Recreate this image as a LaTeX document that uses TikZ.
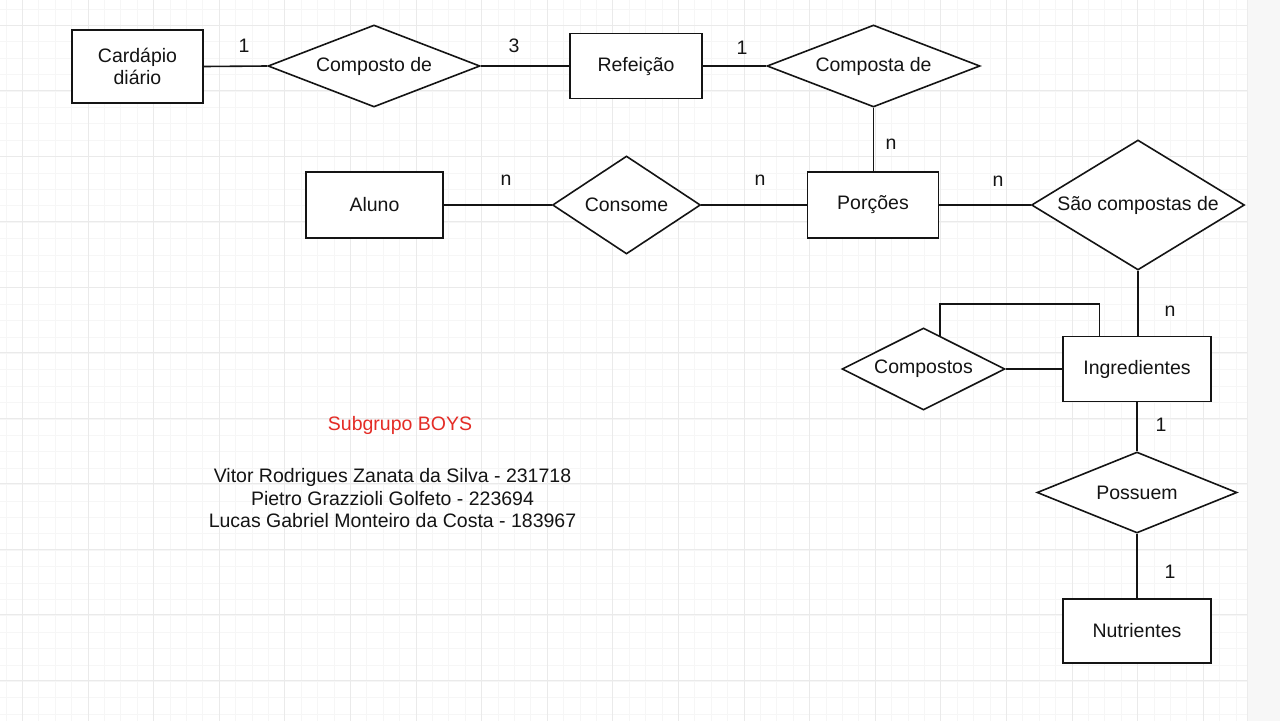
\documentclass[tikz,border=0pt]{standalone}
\usepackage{fontspec}
\setmainfont{Liberation Sans}
\usetikzlibrary{shapes.geometric,calc}
\definecolor{gridminor}{RGB}{246,246,246}
\definecolor{gridmajor}{RGB}{234,234,234}
\definecolor{panel}{RGB}{247,247,247}
\definecolor{panelline}{RGB}{236,236,236}
\definecolor{titlered}{RGB}{228,44,38}
\definecolor{ink}{RGB}{20,20,20}
\begin{document}
\begin{tikzpicture}[x=1pt,y=-1pt,
  every node/.style={font=\fontsize{19.5}{22.5}\selectfont, text=ink},
  entity/.style={draw=ink, line width=1.6pt, rectangle, inner sep=0pt, fill=white},
  relation/.style={draw=ink, line width=1.6pt, diamond, inner sep=0pt, fill=white},
  link/.style={draw=ink, line width=1.6pt},
  card/.style={inner sep=0pt, anchor=center}]
\useasboundingbox (0,0) rectangle (1280,721);
\fill[white] (0,0) rectangle (1280,721);
% background grid
\foreach \k in {0,...,76} {
  \draw[gridminor, line width=0.7pt] ({6+16.4*\k},0) -- ({6+16.4*\k},721);
}
\foreach \k in {0,...,44} {
  \draw[gridminor, line width=0.7pt] (0,{8.9+16.4*\k}) -- (1247,{8.9+16.4*\k});
}
\foreach \k in {0,...,19} {
  \draw[gridmajor, line width=0.8pt] ({22.4+65.6*\k},0) -- ({22.4+65.6*\k},721);
}
\foreach \k in {0,...,11} {
  \draw[gridmajor, line width=0.8pt] (0,{25.3+65.5*\k}) -- (1247,{25.3+65.5*\k});
}
% side panel
\fill[panel] (1247,0) rectangle (1280,721);
\draw[panelline, line width=1pt] (1247,0) -- (1247,721);

% entities
\node[entity, minimum width=131, minimum height=73, align=center] (card) at (137.5,66.5) {Cardápio\\diário};
\node[entity, minimum width=132, minimum height=65] (ref) at (636,66) {Refeição};
\node[entity, minimum width=137, minimum height=66] (aluno) at (374.5,205) {Aluno};
\node[entity, minimum width=131, minimum height=66] (porc) at (873,205) {Porções};
\node[entity, minimum width=148, minimum height=65] (ingr) at (1137,369) {Ingredientes};
\node[entity, minimum width=148, minimum height=64] (nutr) at (1137,631) {Nutrientes};

% relationships
\node[relation, aspect=2.585, minimum width=212, minimum height=82] (compde) at (374,66) {Composto de};
\node[relation, aspect=2.6, minimum width=213, minimum height=82] (compta) at (873.5,66) {Composta de};
\node[relation, aspect=1.51, minimum width=148, minimum height=98] (consome) at (626.5,205) {Consome};
\node[relation, aspect=1.64, minimum width=213, minimum height=130] (sao) at (1138,205) {São compostas de};
\node[relation, aspect=1.99, minimum width=163, minimum height=82] (compostos) at (923.5,369) {Compostos};
\node[relation, aspect=2.47, minimum width=200, minimum height=81] (possuem) at (1137,492.5) {Possuem};

% connectors
\draw[link] (card.east) -- (compde.west);
\draw[link] (compde.east) -- (ref.west);
\draw[link] (ref.east) -- (compta.west);
\draw[link] (compta.south) -- (compta.south |- porc.north);
\draw[link] (aluno.east) -- (consome.west);
\draw[link] (consome.east) -- (porc.west);
\draw[link] (porc.east) -- (sao.west);
\draw[link] (sao.south) -- (ingr.north -| sao.south);
\draw[link] (compostos.east) -- (ingr.west);
\draw[link] (ingr.south) -- (possuem.north);
\draw[link] (possuem.south) -- (nutr.north);
% self-relationship loop of Ingredientes through Compostos
\coordinate (loopfrom) at ($(compostos.north)!0.2!(compostos.east)$);
\coordinate (loopto) at ($(ingr.north west)!0.25!(ingr.north east)$);
\coordinate (looptop) at (0,304);
\draw[link] (loopfrom) -- (loopfrom |- looptop) -| (loopto);

% cardinalities
\node[card] (c1) at (244,46) {1};
\node[card] (c2) at (514,46) {3};
\node[card] (c3) at (742,48) {1};
\node[card] (c4) at (891,144) {n};
\node[card] (c5) at (506,180) {n};
\node[card] (c6) at (760,180) {n};
\node[card] (c7) at (998,181) {n};
\node[card] (c8) at (1170,311) {n};
\node[card] (c9) at (1161,425) {1};
\node[card] (c10) at (1170,572) {1};

% group credits
\node[text=titlered] (title) at (400,425) {Subgrupo BOYS};
\node[align=center] (names) at (392.5,498.5) {Vitor Rodrigues Zanata da Silva - 231718\\Pietro Grazzioli Golfeto - 223694\\Lucas Gabriel Monteiro da Costa - 183967};
\end{tikzpicture}
\end{document}
